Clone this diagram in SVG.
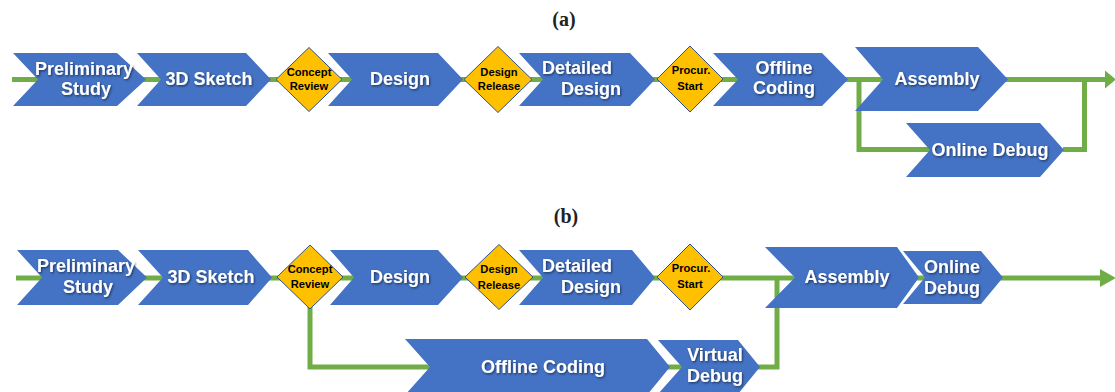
<svg xmlns="http://www.w3.org/2000/svg" width="1115" height="392" viewBox="0 0 1115 392">
<defs>
<filter id="sh" x="-10%" y="-20%" width="130%" height="150%">
<feDropShadow dx="1" dy="1.2" stdDeviation="0.8" flood-color="#000" flood-opacity="0.55"/>
</filter>
<style>
.chev{fill:#4472C4;}
.dia{fill:#FFC000;stroke:#2F528F;stroke-width:1;}
.conn{fill:none;stroke:#70AD47;stroke-width:5;stroke-linejoin:miter;}
.head{fill:#70AD47;}
.t{font-family:"Liberation Sans",Arial,sans-serif;font-weight:bold;font-size:18px;fill:#fff;text-anchor:middle;filter:url(#sh);}
.d{font-family:"Liberation Sans",Arial,sans-serif;font-weight:bold;font-size:11.2px;fill:#000;text-anchor:middle;}
.cap{font-family:"Liberation Serif","Times New Roman",serif;font-weight:bold;font-size:20px;fill:#222;text-anchor:middle;}
</style>
</defs>
<rect width="1115" height="392" fill="#fff"/>
<text class="cap" x="564" y="26">(a)</text>
<text class="cap" x="566" y="223">(b)</text>

<g id="connectors">
<line class="conn" x1="12" y1="79.5" x2="1106" y2="79.5"/>
<polyline class="conn" points="859,79.5 859,149.5 931,149.5"/>
<polyline class="conn" points="1063,149.5 1084.5,149.5 1084.5,79.5"/>
<polygon class="head" points="1105,70.5 1116,79.5 1105,88.5"/>
<line class="conn" x1="16" y1="278" x2="1101" y2="278"/>
<polyline class="conn" points="310,300 310,367 777,367 777,278"/>
<polygon class="head" points="1100,269 1116,278 1100,287"/>
</g>

<g id="a-prelim"><polygon class="chev" points="13,53 117,53 146,79.5 117,106 13,106 38,79.5"/>
<text class="t" x="84" y="75">Preliminary</text><text class="t" x="86" y="95">Study</text></g>
<g id="a-sketch"><polygon class="chev" points="137,53 246,53 271,79.5 246,106 137,106 161,79.5"/>
<text class="t" x="209" y="85">3D Sketch</text></g>
<g id="a-concept"><polygon class="dia" points="309,47.5 342,79.5 309,111.5 276,79.5"/>
<text class="d" x="309" y="76">Concept</text><text class="d" x="309" y="90">Review</text></g>
<g id="a-design"><polygon class="chev" points="328,53 438,53 463,79.5 438,106 328,106 352,79.5"/>
<text class="t" x="400" y="85">Design</text></g>
<g id="a-release"><polygon class="dia" points="498,46.5 532,79.5 498,112.5 464,79.5"/>
<text class="d" x="499" y="76">Design</text><text class="d" x="499" y="90">Release</text></g>
<g id="a-detailed"><polygon class="chev" points="519,53 630,53 655,79.5 630,106 519,106 543,79.5"/>
<text class="t" x="577" y="74">Detailed</text><text class="t" x="591" y="95">Design</text></g>
<g id="a-procur"><polygon class="dia" points="690,46 723,79 690,112 657,79"/>
<text class="d" x="691" y="74">Procur.</text><text class="d" x="690" y="90">Start</text></g>
<g id="a-offline"><polygon class="chev" points="713,53 822,53 848,79.5 822,106 713,106 738,79.5"/>
<text class="t" x="784" y="74">Offline</text><text class="t" x="784" y="94">Coding</text></g>
<g id="a-assembly"><polygon class="chev" points="855,47 978,47 1008,79.5 978,111 855,111 883,79.5"/>
<text class="t" x="937" y="85">Assembly</text></g>
<g id="a-online"><polygon class="chev" points="906,123 1040,123 1064,150 1040,177 906,177 930,150"/>
<text class="t" x="990" y="156">Online Debug</text></g>

<g id="b-prelim"><polygon class="chev" points="17,250 118,250 147,277.5 118,305 17,305 42,277.5"/>
<text class="t" x="86" y="272">Preliminary</text><text class="t" x="88" y="293">Study</text></g>
<g id="b-sketch"><polygon class="chev" points="138,250 248,250 272,277.5 248,305 138,305 163,277.5"/>
<text class="t" x="211" y="283">3D Sketch</text></g>
<g id="b-concept"><polygon class="dia" points="310,245 343,277 310,309 277,277"/>
<text class="d" x="310" y="273">Concept</text><text class="d" x="310" y="288">Review</text></g>
<g id="b-design"><polygon class="chev" points="330,250 438,250 463,277.5 438,305 330,305 354,277.5"/>
<text class="t" x="400" y="283">Design</text></g>
<g id="b-release"><polygon class="dia" points="499,244.5 533,277 499,309.5 465,277"/>
<text class="d" x="499" y="273">Design</text><text class="d" x="499" y="289">Release</text></g>
<g id="b-detailed"><polygon class="chev" points="519,250 632,250 655,277.5 632,305 519,305 543,277.5"/>
<text class="t" x="577" y="272">Detailed</text><text class="t" x="591" y="293">Design</text></g>
<g id="b-procur"><polygon class="dia" points="690,244 723,277 690,310 657,277"/>
<text class="d" x="691" y="272">Procur.</text><text class="d" x="690" y="288">Start</text></g>
<g id="b-assembly"><polygon class="chev" points="765,247 897,247 919,277.5 897,308 765,308 795,277.5"/>
<text class="t" x="847" y="283">Assembly</text></g>
<g id="b-online"><polygon class="chev" points="903,251 981,251 1003,277.5 981,304 903,304 925,277.5"/>
<text class="t" x="952" y="273">Online</text><text class="t" x="952" y="294">Debug</text></g>
<g id="b-offline"><polygon class="chev" points="405,339 647,339 670,367 647,395 405,395 430,367"/>
<text class="t" x="543" y="373">Offline Coding</text></g>
<g id="b-virtual"><polygon class="chev" points="658,340 738,340 760,367 738,394 658,394 682,367"/>
<text class="t" x="715" y="361">Virtual</text><text class="t" x="715" y="382">Debug</text></g>
</svg>
